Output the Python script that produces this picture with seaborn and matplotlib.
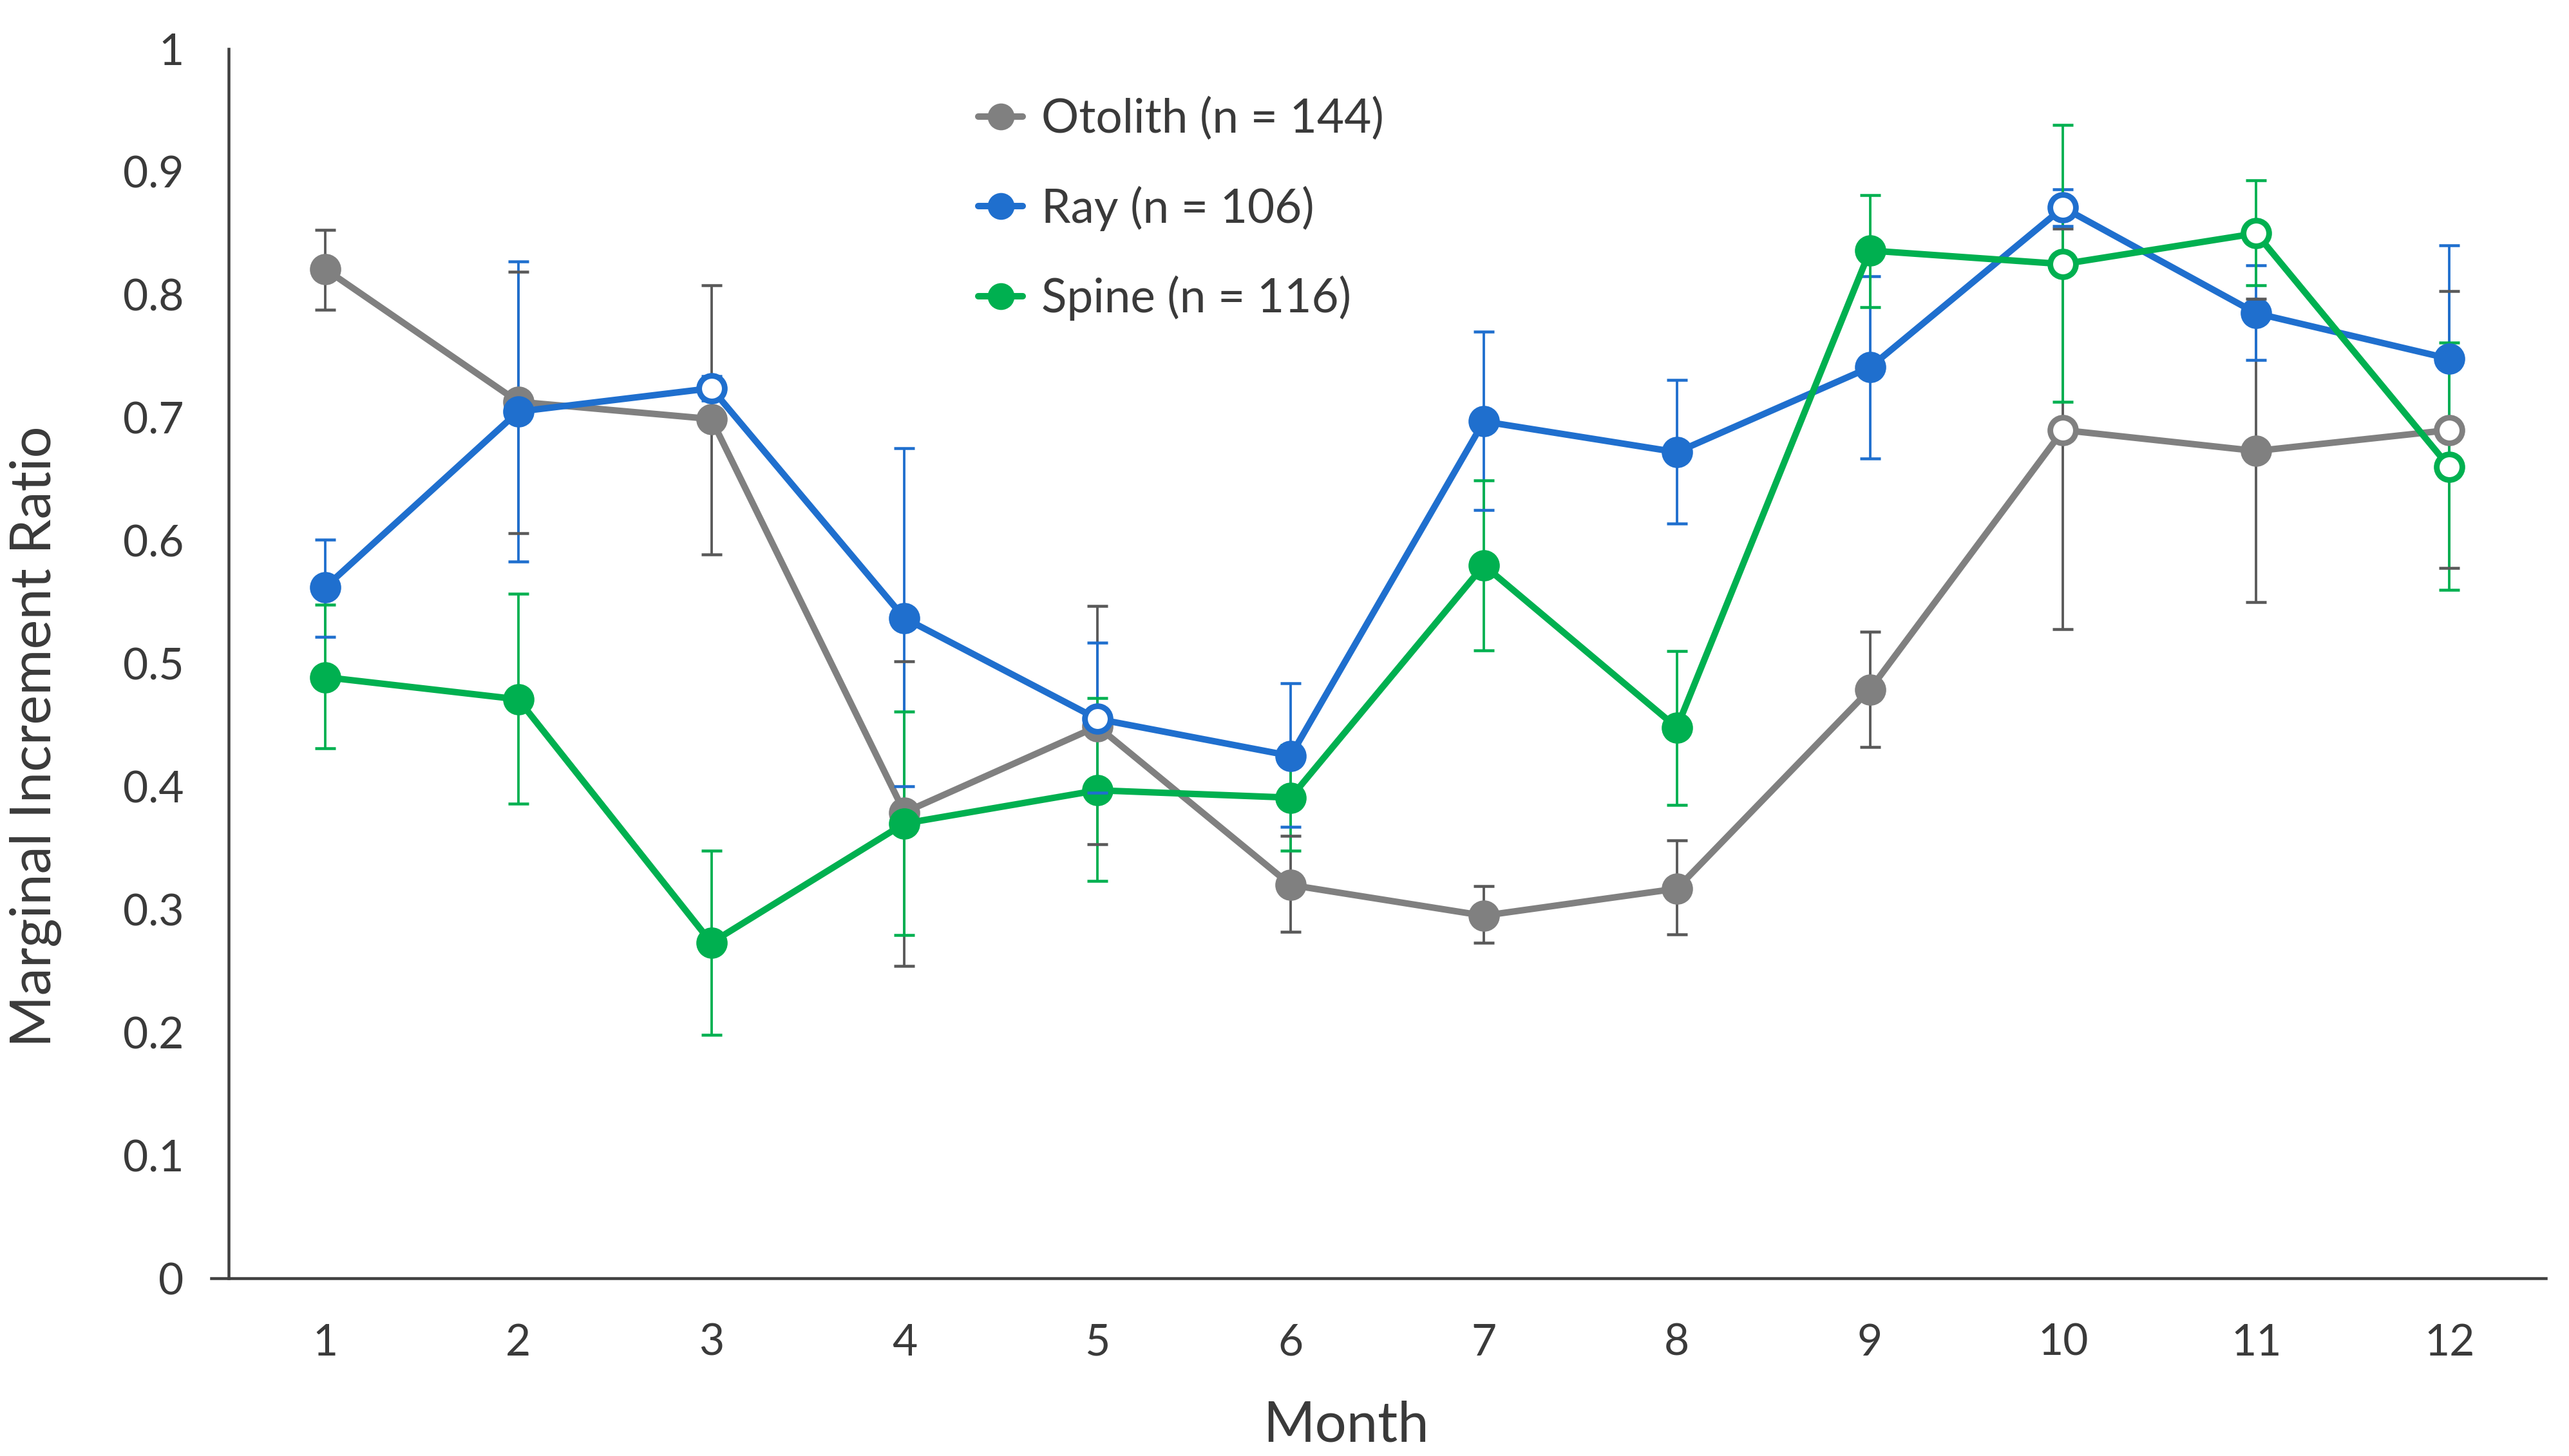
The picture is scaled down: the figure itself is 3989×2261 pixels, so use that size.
import pandas as pd
import seaborn as sns
import matplotlib.pyplot as plt
import numpy as np

# Data
months = list(range(1, 13))
series_names = ['Otolith (n = 144)', 'Ray (n = 106)', 'Spine (n = 116)']

otolith = [0.821, 0.713, 0.699, 0.379, 0.449, 0.320, 0.295, 0.317, 0.479, 0.690, 0.673, 0.690]
otolith_lo = [0.788, 0.606, 0.589, 0.254, 0.353, 0.282, 0.273, 0.280, 0.432, 0.528, 0.550, 0.578]
otolith_hi = [0.853, 0.819, 0.808, 0.502, 0.547, 0.360, 0.319, 0.356, 0.526, 0.854, 0.797, 0.803]

ray = [0.562, 0.705, 0.724, 0.537, 0.455, 0.425, 0.697, 0.672, 0.741, 0.871, 0.785, 0.748]
ray_lo = [0.522, 0.583, 0.714, 0.400, 0.395, 0.367, 0.625, 0.614, 0.667, 0.856, 0.747, 0.656]
ray_hi = [0.601, 0.827, 0.734, 0.675, 0.517, 0.484, 0.770, 0.731, 0.815, 0.886, 0.824, 0.840]

spine = [0.489, 0.471, 0.273, 0.370, 0.397, 0.391, 0.580, 0.448, 0.836, 0.825, 0.850, 0.660]
spine_lo = [0.431, 0.386, 0.198, 0.279, 0.323, 0.348, 0.511, 0.385, 0.790, 0.713, 0.808, 0.560]
spine_hi = [0.548, 0.557, 0.348, 0.461, 0.472, 0.434, 0.649, 0.510, 0.881, 0.938, 0.893, 0.761]

# months drawn with hollow markers
otolith_open = [10, 12]
ray_open = [3, 5, 10]
spine_open = [10, 11, 12]

colors = ['#808080', '#1f6fce', '#00b050']
err_colors = ['#595959', '#1f6fce', '#00b050']
text_color = '#3a3a3a'

sns.set_style('white')
plt.rcParams['font.family'] = ['Lato', 'DejaVu Sans']
plt.rcParams['text.color'] = text_color

# long table for seaborn
df = pd.DataFrame({
    'Month': months * 3,
    'Ratio': otolith + ray + spine,
    'Structure': [series_names[0]] * 12 + [series_names[1]] * 12 + [series_names[2]] * 12,
})

fig = plt.figure(figsize=(3989 / 250, 2261 / 250), dpi=250)
ax = fig.add_axes([0.0822, 0.122, 0.9088, 0.8444])

# error bars first (underneath)
vals = [otolith, ray, spine]
los = [otolith_lo, ray_lo, spine_lo]
his = [otolith_hi, ray_hi, spine_hi]
for i in range(3):
    v = np.array(vals[i])
    yerr = [v - np.array(los[i]), np.array(his[i]) - v]
    ax.errorbar(months, v, yerr=yerr, fmt='none', ecolor=err_colors[i],
                elinewidth=1.1, capsize=4.5, capthick=1.3, zorder=1.5)

sns.lineplot(data=df, x='Month', y='Ratio', hue='Structure', palette=colors,
             marker='o', markersize=14, markeredgewidth=0, linewidth=2.9,
             errorbar=None, sort=False, ax=ax)

for i, line in enumerate(ax.get_lines()[:3]):
    line.set_zorder(2 + 0.1 * i)

# hollow markers
opens = [otolith_open, ray_open, spine_open]
for i in range(3):
    xs = opens[i]
    ys = [vals[i][m - 1] for m in xs]
    ax.plot(xs, ys, 'o', mfc='white', mec=colors[i], mew=2.1, ms=11,
            linestyle='none', zorder=2.05 + 0.1 * i)

# legend
leg = ax.get_legend()
handles = leg.legend_handles
labels = [t.get_text() for t in leg.get_texts()]
for h in handles:
    h.set_linewidth(2.9)
    h.set_markersize(12)
ax.legend(handles, labels, loc='upper left', bbox_to_anchor=(0.357, 0.975),
          bbox_transform=fig.transFigure, frameon=False, fontsize=21,
          handlelength=0.95, handletextpad=0.4, labelspacing=0.95,
          borderaxespad=0.9)

# axes
ax.set_xlim(0.41, 12.5)
ax.set_ylim(0, 1)
ax.spines['left'].set_position(('data', 0.5))
ax.spines['top'].set_visible(False)
ax.spines['right'].set_visible(False)
for s in ['left', 'bottom']:
    ax.spines[s].set_color('#404040')
    ax.spines[s].set_linewidth(1.3)

ax.set_xticks(months)
ax.set_xticklabels([str(m) for m in months])
ax.set_yticks(np.arange(0, 1.01, 0.1))
ax.set_yticklabels(['0'] + ['%.1f' % t for t in np.arange(0.1, 0.95, 0.1)] + ['1'])
ax.tick_params(axis='both', direction='out', length=7, width=1.2, color='#404040',
               labelsize=19.5, labelcolor=text_color)
ax.tick_params(axis='y', pad=13)
ax.tick_params(axis='x', pad=13)
ax.set_xlabel('')
ax.set_ylabel('')

fig.text(0.014, 1 - 447 / 884, 'Marginal Increment Ratio', rotation=90,
         ha='center', va='center', fontsize=25, color=text_color)
fig.text(0.524, 0.021, 'Month', ha='center', va='center', fontsize=25,
         color=text_color)

fig.savefig('out.png', dpi=250, facecolor='white')
